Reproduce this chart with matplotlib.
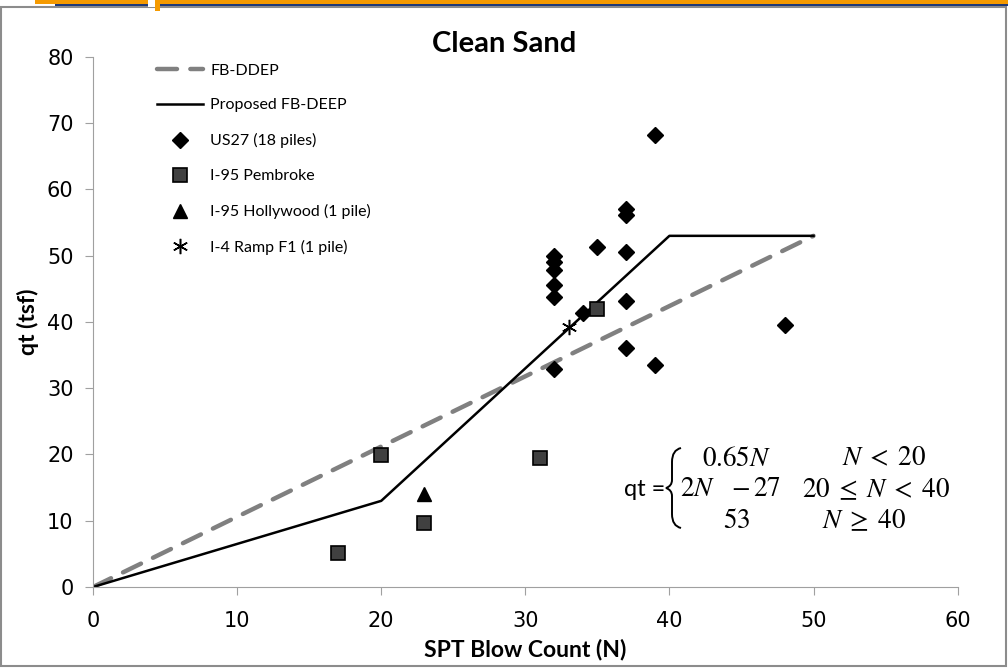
import matplotlib.pyplot as plt
from matplotlib.patches import Rectangle, PathPatch
from matplotlib.path import Path

plt.rcParams['font.family'] = ['Lato', 'DejaVu Sans']
plt.rcParams['mathtext.fontset'] = 'stix'

# FB-DDEP and proposed curves
ddep_n = [0, 50]
ddep_qt = [0, 53]
prop_n = [0, 20, 40, 50]
prop_qt = [0, 13, 53, 53]

# US27 (18 piles)
us27_n = [39, 32, 32, 32, 32, 32, 32, 35, 34, 37, 37, 37, 37, 37, 39, 48]
us27_qt = [68.2, 49.9, 49.1, 47.8, 45.6, 43.8, 32.9, 51.3, 41.3, 57.0, 56.2, 50.5, 43.1, 36.1, 33.5, 39.5]

# I-95 Pembroke
pem_n = [17, 20, 23, 31, 35]
pem_qt = [5.1, 19.9, 9.6, 19.4, 41.9]

# I-95 Hollywood
hol_n = [23]
hol_qt = [14.0]

# I-4 Ramp F1
ramp_n = [33]
ramp_qt = [39.3]

W, H = 1008, 670
fig = plt.figure(figsize=(W / 100, H / 100), dpi=100)
ax = fig.add_axes([0.0923, 0.1239, 0.8577, 0.7911])

ax.plot(ddep_n, ddep_qt, color='#808080', lw=3.2, dashes=(4.5, 3), dash_capstyle='round',
        label='FB-DDEP')
ax.plot(prop_n, prop_qt, color='black', lw=1.8, label='Proposed FB-DEEP')
ax.plot(us27_n, us27_qt, 'D', color='black', ms=8.5, ls='none', label='US27 (18 piles)')
ax.plot(pem_n, pem_qt, 's', mfc='#404040', mec='black', mew=1.2, ms=10, ls='none',
        label='I-95 Pembroke')
ax.plot(hol_n, hol_qt, '^', color='black', ms=10, ls='none', label='I-95 Hollywood (1 pile)')
ax.plot(ramp_n, ramp_qt, marker=(6, 2, 0), color='black', mew=1.1, ms=11, ls='none',
        label='I-4 Ramp F1 (1 pile)')

ax.set_xlim(0, 60)
ax.set_ylim(0, 80)
ax.set_xticks(range(0, 61, 10))
ax.set_yticks(range(0, 81, 10))
for s in ['top', 'right']:
    ax.spines[s].set_visible(False)
for s in ['left', 'bottom']:
    ax.spines[s].set_color('#a0a0a0')
ax.tick_params(colors='#a0a0a0', labelcolor='black', length=6, direction='out')
ax.tick_params(axis='x', pad=11)
ax.tick_params(axis='y', pad=8)
for lab in ax.get_xticklabels() + ax.get_yticklabels():
    lab.set_fontfamily('DejaVu Sans')
    lab.set_fontsize(15)

fig.text(0.5, 0.934, 'Clean Sand', fontsize=21, fontweight='bold', ha='center', va='center')
ax.set_xlabel('SPT Blow Count (N)', fontsize=16.5, fontweight='bold', labelpad=6)
ax.set_ylabel('qt (tsf)', fontsize=16.5, fontweight='bold', labelpad=6)

ax.legend(loc='upper left', bbox_to_anchor=(0.057, 1.015), frameon=False, fontsize=11.5,
          labelspacing=1.3, handlelength=2.9, handletextpad=0.45)

# equation
fig.text(665 / W, 1 - 490 / H, 'qt =', fontsize=17, ha='right', va='center')
bx = lambda x: x / W
by = lambda y: 1 - y / H
brace = Path([(bx(681), by(448)), (bx(672), by(450)), (bx(672), by(462)),
              (bx(672), by(480)), (bx(672), by(486)), (bx(666), by(488)),
              (bx(672), by(490)), (bx(672), by(496)), (bx(672), by(514)),
              (bx(672), by(526)), (bx(681), by(528))],
             [Path.MOVETO, Path.CURVE3, Path.CURVE3, Path.LINETO, Path.CURVE3, Path.CURVE3,
              Path.CURVE3, Path.CURVE3, Path.LINETO, Path.CURVE3, Path.CURVE3])
fig.patches.append(PathPatch(brace, transform=fig.transFigure, fill=False, lw=1.4, ec='black'))

rows = [(r'$0.65N$', r'$N \;<\; 20$'), (r'$2N\quad{-}\,27$', r'$20 \;\leq\; N \;<\; 40$'),
        (r'$53$', r'$N \;\geq\; 40$')]
col1 = [737, 730, 737]
col2 = [884, 876, 864]
for i, (a, b) in enumerate(rows):
    y = 1 - (458 + i * 31) / H
    fig.text(col1[i] / W, y, a, fontsize=19.5, ha='center', va='center')
    fig.text(col2[i] / W, y, b, fontsize=19.5, ha='center', va='center')

# chart border and slide decoration
fig.patches.append(Rectangle((0.001, 0.006), 0.997, 0.984, transform=fig.transFigure,
                             fill=False, ec='#8c8c8c', lw=1.5))
fig.patches.append(Rectangle((0.035, 0.994), 0.965, 0.006, transform=fig.transFigure,
                             color='#f59a00', lw=0))
fig.patches.append(Rectangle((0.055, 0.9915), 0.945, 0.003, transform=fig.transFigure,
                             color='#1f3a78', lw=0))
fig.patches.append(Rectangle((0.147, 0.99), 0.009, 0.01, transform=fig.transFigure,
                             color='white', lw=0))
fig.patches.append(Rectangle((0.154, 0.984), 0.005, 0.016, transform=fig.transFigure,
                             color='#f59a00', lw=0))

fig.savefig('out.png', dpi=100)
